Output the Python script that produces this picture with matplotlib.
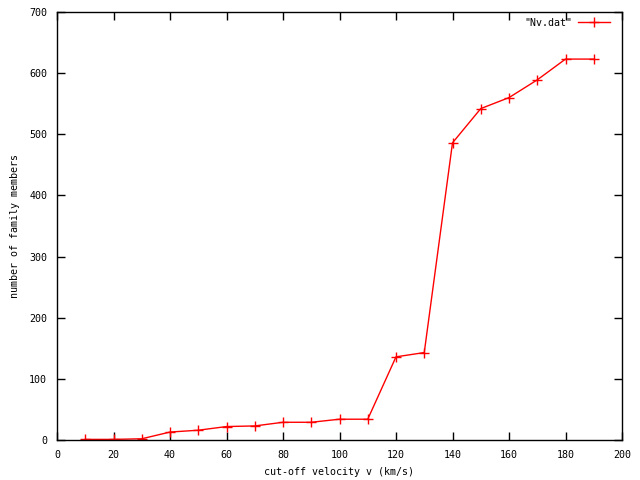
import matplotlib
matplotlib.use('Agg')
import matplotlib.pyplot as plt

# ---------------------------------------------------------------------
# Data
# ---------------------------------------------------------------------
velocity = [10, 20, 30, 40, 50, 60, 70, 80, 90, 100,
            110, 120, 130, 140, 150, 160, 170, 180, 190]
members = [1, 1, 2, 13, 16, 22, 23, 29, 29, 34,
           34, 136, 143, 486, 542, 560, 589, 623, 623]

plt.rcParams['font.family'] = 'DejaVu Sans Mono'
plt.rcParams['font.size'] = 7.2

fig = plt.figure(figsize=(6.4, 4.8), dpi=100)
ax = fig.add_axes([57 / 640, 40 / 480, 565 / 640, 428 / 480])

ax.plot(velocity, members, color='red', linewidth=1, marker='+',
        markersize=7, markeredgewidth=1, label='"Nv.dat"')

ax.set_xlim(0, 200)
ax.set_ylim(0, 700)
ax.set_xticks(range(0, 201, 20))
ax.set_yticks(range(0, 701, 100))
ax.tick_params(direction='in', length=6, width=1, top=True, right=True,
               pad=7)
for s in ax.spines.values():
    s.set_linewidth(1)

ax.set_xlabel('cut-off velocity v (km/s)', labelpad=5)
ax.set_ylabel('number of family members', labelpad=7)

leg = ax.legend(loc='upper right', frameon=False, markerfirst=False,
                handlelength=3.2, borderaxespad=0.2, handletextpad=0.6,
                bbox_to_anchor=(0.99, 1.0))

fig.savefig('out.png', dpi=100)
